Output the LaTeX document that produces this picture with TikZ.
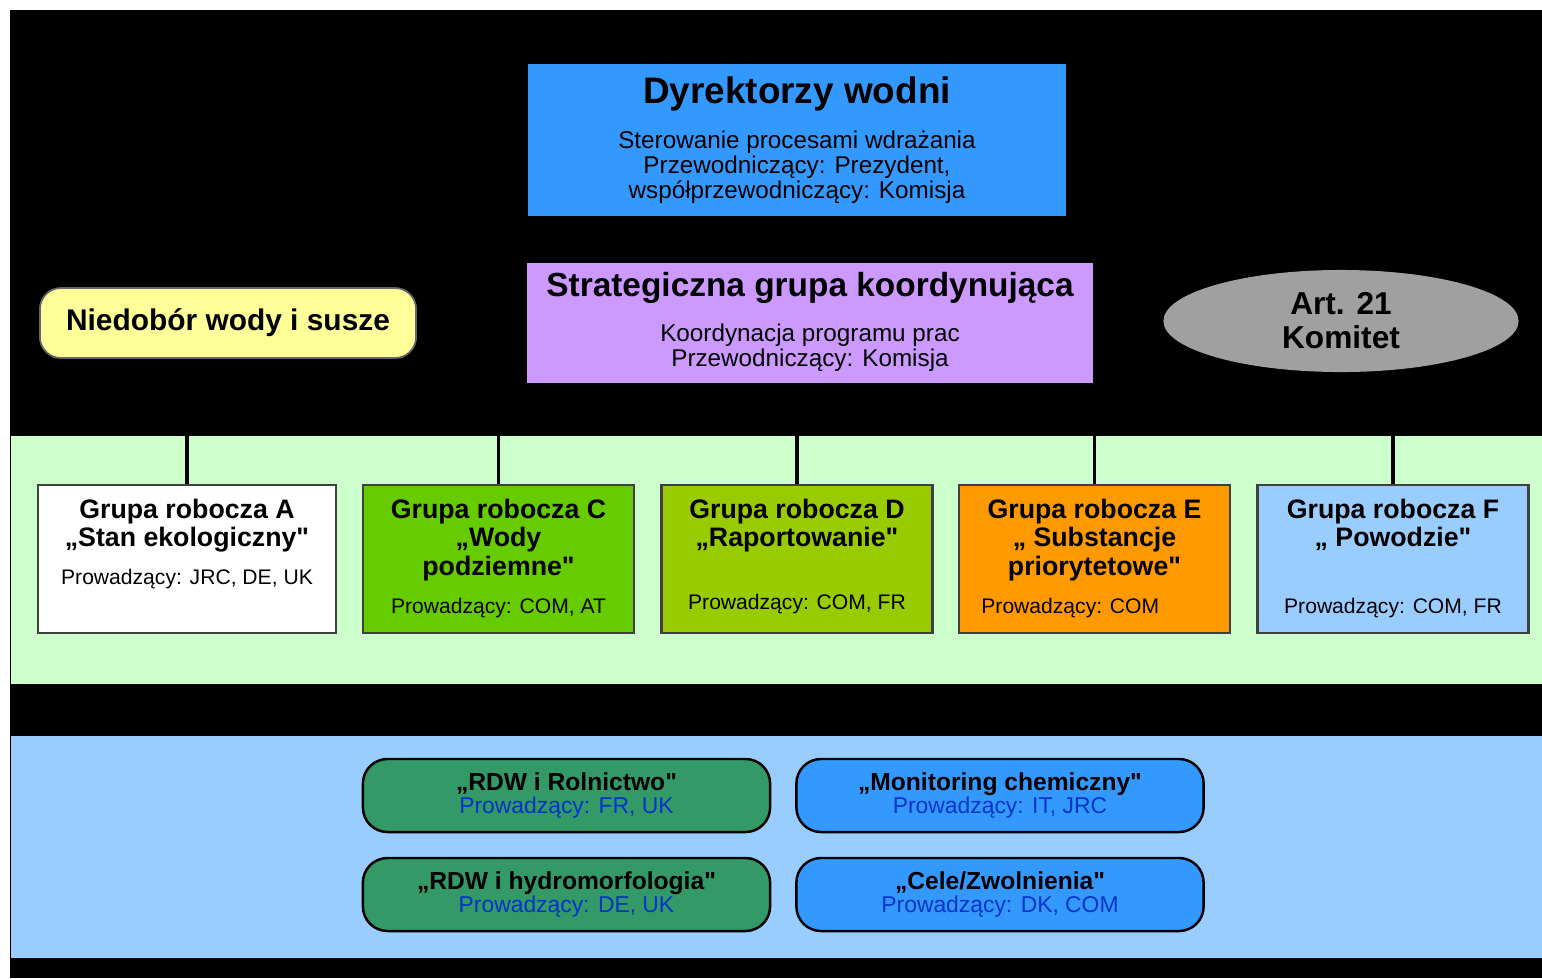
\documentclass[tikz,border=0pt]{standalone}
\usepackage{fontspec}
\setmainfont{Liberation Sans}[Ligatures=TeXOff]
\usetikzlibrary{positioning, shapes.geometric}

\definecolor{dirblue}{HTML}{3399FF}
\definecolor{lavender}{HTML}{CC99FF}
\definecolor{paleyellow}{HTML}{FFFF99}
\definecolor{palegreen}{HTML}{CCFFCC}
\definecolor{paleblue}{HTML}{99CCFF}
\definecolor{grassgreen}{HTML}{66CC00}
\definecolor{olivegreen}{HTML}{99CC00}
\definecolor{orangebox}{HTML}{FF9900}
\definecolor{seagreen}{HTML}{339966}
\definecolor{leadblue}{HTML}{0033CC}
\definecolor{ovalgray}{HTML}{A0A0A0}

\begin{document}
\begin{tikzpicture}[x=0.01cm, y=-0.01cm,
    band/.style={inner sep=0, minimum width=15.32cm, anchor=north west},
    topbox/.style={draw=black, line width=0.5pt, inner sep=0},
    grpbox/.style={draw=black!75, line width=0.7pt, inner sep=0, minimum width=2.71cm, minimum height=1.48cm},
    taskbox/.style={draw=black, line width=0.7pt, rounded corners=7pt, inner sep=0, minimum width=4.07cm, minimum height=0.73cm, align=center, font=\fontsize{7}{6.6}\selectfont},
    headtxt/.style={inner sep=0, align=center, font=\bfseries\fontsize{7.6}{8}\selectfont},
    leadtxt/.style={inner sep=0, font=\fontsize{6}{7}\selectfont},
    notetxt/.style={inner sep=0, align=center, font=\fontsize{6.9}{7.1}\selectfont},
    link/.style={line width=1pt}]

    % Frame and background
    \useasboundingbox (0,0) rectangle (1542,978);
    \fill[white] (0,0) rectangle (1542,978);
    \fill[black] (10,10) rectangle (1542,978);

    % Bands
    \node[band, fill=palegreen, minimum height=2.48cm] (wgband) at (10,435) {};
    \node[band, fill=paleblue, minimum height=2.22cm] (taskband) at (10,735) {};

    % Top level
    \node[topbox, fill=dirblue, minimum width=5.40cm, minimum height=1.54cm] (dir) at (797,140) {};
    \node[inner sep=0, font=\bfseries\fontsize{10.5}{11}\selectfont] (dirtitle) at ([yshift=-0.32cm]dir.north) {Dyrektorzy wodni};
    \node[notetxt] (dirnote) at ([yshift=-1.05cm]dir.north) {Sterowanie procesami wdrażania\\Przewodniczący: Prezydent,\\współprzewodniczący: Komisja};

    \node[topbox, fill=lavender, minimum width=5.67cm, minimum height=1.22cm] (scg) at (810,323) {};
    \node[inner sep=0, font=\bfseries\fontsize{9.5}{10}\selectfont] (scgtitle) at ([yshift=-0.27cm]scg.north) {Strategiczna grupa koordynująca};
    \node[notetxt] (scgnote) at ([yshift=-0.87cm]scg.north) {Koordynacja programu prac\\Przewodniczący: Komisja};

    \node[topbox, draw=black!60, fill=paleyellow, rounded corners=6pt, minimum width=3.76cm, minimum height=0.70cm, font=\bfseries\fontsize{8.5}{9}\selectfont] (drought) at (228,323) {Niedobór wody i susze};

    \node[ellipse, fill=ovalgray, inner sep=0, minimum width=3.55cm, minimum height=1.02cm, align=center, font=\bfseries\fontsize{9}{9.7}\selectfont] (art) at (1341,321) {Art. 21\\Komitet};

    % Working groups
    \node[grpbox, fill=white, minimum width=2.98cm] (gA) at (187,559) {};
    \node[grpbox, fill=grassgreen] (gC) at (498.5,559) {};
    \node[grpbox, fill=olivegreen] (gD) at (797,559) {};
    \node[grpbox, fill=orangebox] (gE) at (1094.5,559) {};
    \node[grpbox, fill=paleblue] (gF) at (1393,559) {};

    \node[headtxt, anchor=north] (hA) at ([yshift=-0.15cm]gA.north) {Grupa robocza A\\„Stan ekologiczny"};
    \node[headtxt, anchor=north] (hC) at ([yshift=-0.15cm]gC.north) {Grupa robocza C\\„Wody\\podziemne"};
    \node[headtxt, anchor=north] (hD) at ([yshift=-0.15cm]gD.north) {Grupa robocza D\\„Raportowanie"};
    \node[headtxt, anchor=north] (hE) at ([yshift=-0.15cm]gE.north) {Grupa robocza E\\„ Substancje\\priorytetowe"};
    \node[headtxt, anchor=north] (hF) at ([yshift=-0.15cm]gF.north) {Grupa robocza F\\„ Powodzie"};

    \node[leadtxt] (lA) at ([yshift=0.55cm]gA.south) {Prowadzący: JRC, DE, UK};
    \node[leadtxt] (lC) at ([yshift=0.26cm]gC.south) {Prowadzący: COM, AT};
    \node[leadtxt] (lD) at ([yshift=0.30cm]gD.south) {Prowadzący: COM, FR};
    \node[leadtxt, anchor=west] (lE) at ([xshift=0.23cm, yshift=0.26cm]gE.south west) {Prowadzący: COM};
    \node[leadtxt] (lF) at ([yshift=0.26cm]gF.south) {Prowadzący: COM, FR};

    % Links from band to groups
    \foreach \g in {gA,gC,gD,gE,gF}{
        \coordinate (\g top) at (\g.north |- wgband.north);
        \draw[link] (\g top) -- (\g.north);
    }

    % Task groups
    \node[taskbox, fill=seagreen] (agri) at (566.5,795.5) {{\bfseries „RDW i Rolnictwo"}\\{\color{leadblue}\fontsize{6.5}{6.5}\selectfont Prowadzący: FR, UK}};
    \node[taskbox, fill=seagreen] (hydro) at (566.5,894.5) {{\bfseries „RDW i hydromorfologia"}\\{\color{leadblue}\fontsize{6.5}{6.5}\selectfont Prowadzący: DE, UK}};
    \node[taskbox, fill=dirblue] (chem) at (1000,795.5) {{\bfseries „Monitoring chemiczny"}\\{\color{leadblue}\fontsize{6.5}{6.5}\selectfont Prowadzący: IT, JRC}};
    \node[taskbox, fill=dirblue] (goals) at (1000,894.5) {{\bfseries „Cele/Zwolnienia"}\\{\color{leadblue}\fontsize{6.5}{6.5}\selectfont Prowadzący: DK, COM}};

\end{tikzpicture}
\end{document}
